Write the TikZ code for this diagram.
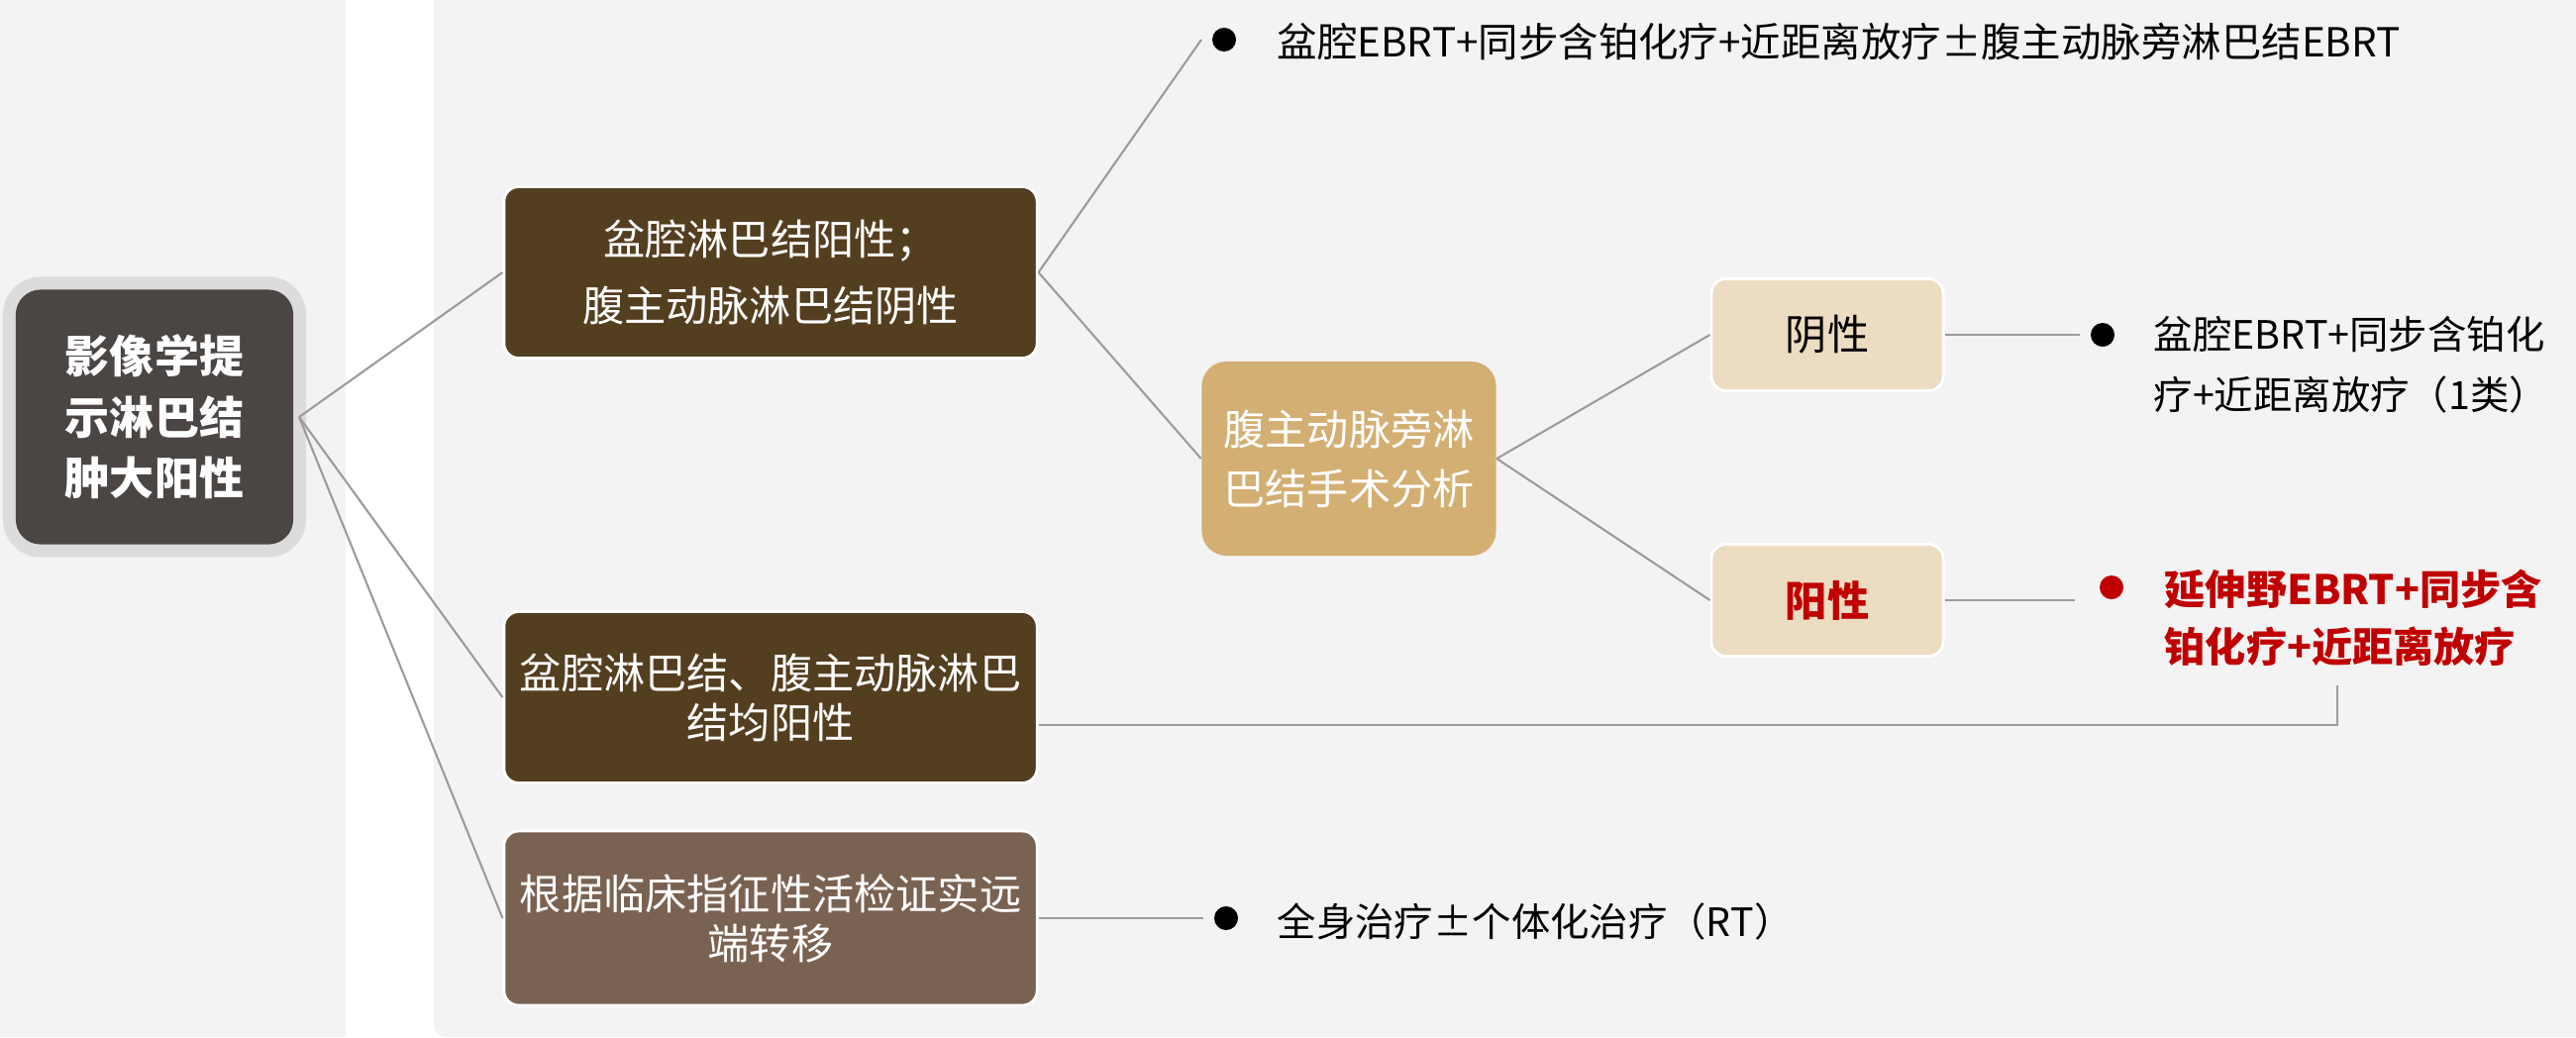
\documentclass[tikz,border=0pt]{standalone}
\usepackage{fontspec}
\setmainfont{Noto Sans CJK SC}
\usepackage{tikz}
\usepackage{xcolor}
\usetikzlibrary{positioning}
\definecolor{panelgray}{HTML}{F3F3F3}
\definecolor{halogray}{HTML}{DCDCDC}
\definecolor{rootdark}{HTML}{4B4544}
\definecolor{nodebrown}{HTML}{533E1F}
\definecolor{nodetaupe}{HTML}{7A6253}
\definecolor{nodetan}{HTML}{D3AF73}
\definecolor{nodebeige}{HTML}{EBDCC2}
\definecolor{linkgray}{HTML}{A09A9A}
\definecolor{alertred}{HTML}{C00000}
\tikzset{
    root-box/.style = {fill=rootdark, text=white, rounded corners=0.25cm, minimum width=2.8cm, minimum height=2.57cm, inner sep=0pt, outer sep=0.06cm, align=center, font=\fontsize{12.8pt}{18.8pt}\selectfont\bfseries, preaction={draw=halogray, line width=0.26cm}},
    stage-box/.style = {draw=white, line width=0.8pt, rounded corners=0.15cm, minimum width=5.38cm, minimum height=1.73cm, inner sep=2pt, align=center, text=white, font=\fontsize{12pt}{14.2pt}\selectfont},
    tan-box/.style = {fill=nodetan, rounded corners=0.25cm, minimum width=2.97cm, minimum height=1.96cm, align=center, text=white, font=\fontsize{12pt}{17pt}\selectfont},
    result-box/.style = {fill=nodebeige, draw=white, line width=0.8pt, rounded corners=0.15cm, minimum width=2.34cm, minimum height=1.13cm, font=\fontsize{12pt}{14pt}\selectfont},
    dot/.style = {circle, fill=black, minimum size=0.24cm, inner sep=0pt, outer sep=0.11cm},
    note-text/.style = {anchor=west, align=left, inner sep=0pt, font=\fontsize{11.2pt}{17.4pt}\selectfont},
    link/.style = {draw=linkgray, line width=0.6pt},
}

\begin{document}
\begin{tikzpicture}[x=0.01cm, y=-0.01cm]
\useasboundingbox (0,0) rectangle (2601,1047);
% background panels
\fill[white] (0,0) rectangle (2601,1047);
\fill[panelgray] (0,0) rectangle (349,1047);
\fill[panelgray, rounded corners=0.12cm] (438,-60) rectangle (2700,1047);

\node[root-box] (root) at (156,421) {\raisebox{-0.2cm}{\shortstack{影像学提\\[0.08cm]示淋巴结\\[0.08cm]肿大阳性}}};

\node[stage-box, fill=nodebrown, font=\fontsize{12pt}{19pt}\selectfont] (pelvic) at (778,275) {盆腔淋巴结阳性；\\腹主动脉淋巴结阴性};
\node[stage-box, fill=nodebrown] (both) at (778,704) {盆腔淋巴结、腹主动脉淋巴\\结均阳性};
\node[stage-box, fill=nodetaupe, minimum height=1.76cm] (distant) at (778,927) {根据临床指征性活检证实远\\端转移};

\node[tan-box] (surgery) at (1362,463) {腹主动脉旁淋\\巴结手术分析};
\node[result-box] (neg) at (1845,338) {阴性};
\node[result-box, text=alertred, font=\fontsize{12pt}{14pt}\selectfont\bfseries] (pos) at (1845,606) {阳性};

% treatments
\node[dot] (dot-a) at (1236,40) {};
\node[note-text, font=\fontsize{11.5pt}{17.4pt}\selectfont] (text-a) at (1289,42) {盆腔EBRT+同步含铂化疗+近距离放疗±腹主动脉旁淋巴结EBRT};
\node[dot] (dot-b) at (2123,338) {};
\node[note-text] (text-b) at (2174,368) {盆腔EBRT+同步含铂化\\疗+近距离放疗（1类）};
\node[dot, fill=alertred] (dot-c) at (2132,593) {};
\node[note-text, text=alertred, font=\fontsize{11.7pt}{16.5pt}\selectfont\bfseries] (text-c) at (2185,624) {延伸野EBRT+同步含\\铂化疗+近距离放疗};
\node[dot] (dot-d) at (1238,927) {};
\node[note-text] (text-d) at (1289,931) {全身治疗±个体化治疗（RT）};
\coordinate (both-end) at (2360,692);

% connectors
\foreach \child in {pelvic, both, distant}
    \draw[link] (root.east) -- (\child.west);
\draw[link] (pelvic.east) -- (dot-a.west);
\draw[link] (pelvic.east) -- (surgery.west);
\draw[link] (surgery.east) -- (neg.west);
\draw[link] (surgery.east) -- (pos.west);
\draw[link] (neg.east) -- (dot-b.west);
\draw[link] (pos.east) -- ++(131,0);
\draw[link] ([yshift=-0.28cm]both.east) -| (both-end);
\draw[link] (distant.east) -- (dot-d.west);
\end{tikzpicture}
\end{document}
